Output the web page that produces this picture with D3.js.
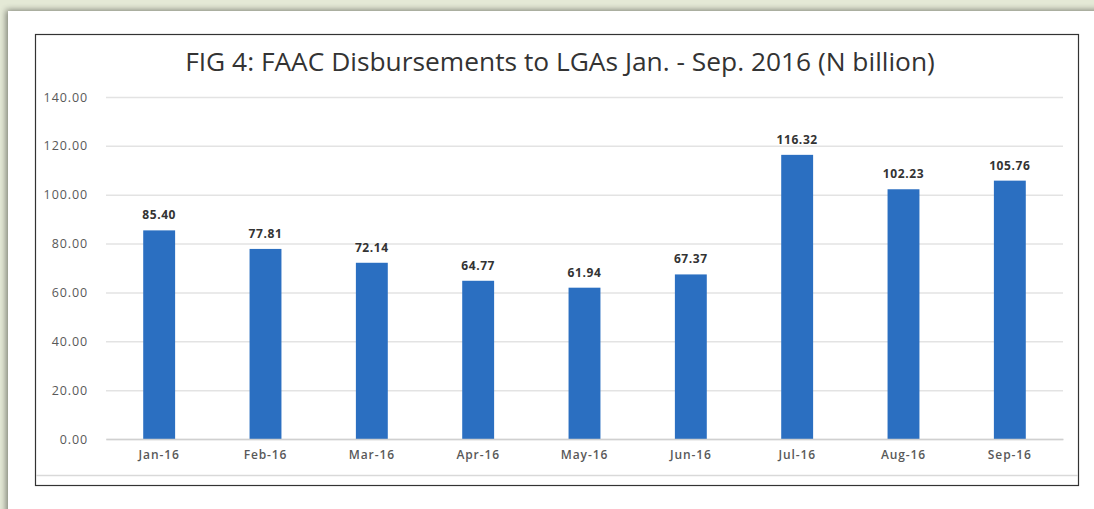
<!DOCTYPE html>
<html><head><meta charset="utf-8">
<script src="https://cdn.jsdelivr.net/npm/d3@7/dist/d3.min.js"></script>
<style>
html,body{margin:0;padding:0;background:#e6ead9;}
svg{display:block;}
</style></head>
<body>
<svg id="c" width="1094" height="509"></svg>
<script>
const categories = ["Jan-16","Feb-16","Mar-16","Apr-16","May-16","Jun-16","Jul-16","Aug-16","Sep-16"];
const values = [85.40,77.81,72.14,64.77,61.94,67.37,116.32,102.23,105.76];
const yTicks = [0,20,40,60,80,100,120,140];
const title = "FIG 4: FAAC Disbursements to LGAs Jan. - Sep. 2016 (N billion)";

const svg = d3.select("#c");
const defs = svg.append("defs");
const f = defs.append("filter").attr("id","sh").attr("x","-5%").attr("y","-5%").attr("width","110%").attr("height","110%");
f.append("feGaussianBlur").attr("in","SourceAlpha").attr("stdDeviation",3);
f.append("feOffset").attr("dx",-2).attr("dy",-1).attr("result","b");
f.append("feComponentTransfer").append("feFuncA").attr("type","linear").attr("slope",0.45);
const m = f.append("feMerge"); m.append("feMergeNode"); m.append("feMergeNode").attr("in","SourceGraphic");

svg.append("rect").attr("x",0).attr("y",0).attr("width",1094).attr("height",509).attr("fill","#e4e9d6");
svg.append("rect").attr("x",8).attr("y",11).attr("width",1100).attr("height",520).attr("fill","#fff").attr("filter","url(#sh)");

// inner chart frame
svg.append("rect").attr("x",35.5).attr("y",34.5).attr("width",1043).attr("height",451).attr("fill","#fff").attr("stroke","#333").attr("stroke-width",1.2);
svg.append("line").attr("x1",36).attr("x2",1078).attr("y1",475.5).attr("y2",475.5).attr("stroke","#d9d9d9").attr("stroke-width",1.5);

const x = d3.scaleBand().domain(categories).range([106,1063]).paddingInner(0.7).paddingOuter(0.35);
const y = d3.scaleLinear().domain([0,140]).range([439,97]);

// gridlines
const grid = svg.append("g").attr("transform","translate(106,0)")
  .call(d3.axisLeft(y).tickValues(yTicks).tickSize(-957).tickFormat(""));
grid.select(".domain").remove();
grid.selectAll(".tick line").attr("stroke","#e3e3e3").attr("stroke-width",1.5);

// y labels
const yl = svg.append("g").attr("transform","translate(88,0)")
  .call(d3.axisLeft(y).tickValues(yTicks).tickSize(0).tickPadding(0).tickFormat(d3.format(".2f")));
yl.select(".domain").remove();
yl.selectAll("text").attr("font-family","Open Sans, sans-serif").attr("font-size",12.5).attr("fill","#595959").attr("letter-spacing","0.9");

// bars
svg.append("g").selectAll("rect").data(values).join("rect")
  .attr("x",(d,i)=>x(categories[i]))
  .attr("width",x.bandwidth())
  .attr("y",d=>y(d))
  .attr("height",d=>y(0)-y(d))
  .attr("fill","#2b6fc1");

// baseline axis
const xa = svg.append("g").attr("transform","translate(0,439)")
  .call(d3.axisBottom(x).tickSize(0).tickPadding(11));
xa.select(".domain").attr("stroke","#d0d0d0").attr("stroke-width",1.5);
xa.selectAll("text").attr("font-family","Open Sans, sans-serif").attr("font-size",12).attr("font-weight",600).attr("fill","#595959").attr("letter-spacing","0.9");

// value labels
svg.append("g").selectAll("text").data(values).join("text")
  .attr("x",(d,i)=>x(categories[i])+x.bandwidth()/2)
  .attr("y",d=>y(d)-11)
  .attr("text-anchor","middle")
  .attr("font-family","Open Sans, sans-serif").attr("font-size",12).attr("font-weight",700).attr("fill","#333").attr("letter-spacing","0.6")
  .text(d=>d3.format(".2f")(d));

// title
const t = svg.append("text").attr("x",560).attr("y",71).attr("text-anchor","middle")
  .attr("font-family","Open Sans, sans-serif").attr("font-size",20).attr("font-weight",500).attr("fill","#333").text(title);
const w = t.node().getComputedTextLength();
t.attr("font-size",20*750/w);
</script>
</body></html>
